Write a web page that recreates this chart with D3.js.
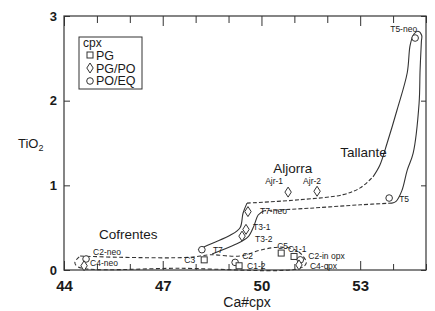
<!DOCTYPE html>
<html>
<head>
<meta charset="utf-8">
<script src="https://cdn.jsdelivr.net/npm/d3@7"></script>
<style>
  body { margin: 0; background: #fff; }
  svg { display: block; font-family: "Liberation Sans", Arial, sans-serif; }
  .axis path, .axis line { stroke: #333; }
  .axis text { fill: #1a1a1a; }
</style>
</head>
<body>
<script>
// chart size
var w = 435;
var h = 311;

// samples: name, Ca#cpx, TiO2, cpx texture
const sampleNames = ["T5-neo", "T5", "Ajr-1", "Ajr-2", "T7-neo", "T3-1", "T3-2", "T7",
                     "C3", "C2", "C1-2", "C5", "C1-1", "C2-in opx", "C4-cpx", "C2-neo", "C4-neo"];
const caNumber = [54.67, 53.88, 50.81, 51.69, 49.59, 49.53, 49.41, 48.19,
                  48.26, 49.20, 49.32, 50.60, 50.99, 51.18, 51.14, 44.67, 44.61];
const tio2 = [2.74, 0.85, 0.92, 0.93, 0.69, 0.48, 0.40, 0.24,
              0.12, 0.09, 0.05, 0.20, 0.16, 0.12, 0.06, 0.13, 0.05];
const texture = ["PO/EQ", "PO/EQ", "PG/PO", "PG/PO", "PG/PO", "PG/PO", "PG/PO", "PO/EQ",
                 "PG", "PO/EQ", "PG", "PG", "PG", "PO/EQ", "PG/PO", "PO/EQ", "PG/PO"];

const legendItems = ["PG", "PG/PO", "PO/EQ"];
const xTicks = [44, 45, 46, 47, 48, 49, 50, 51, 52, 53, 54, 55];
const xLabels = [44, 47, 50, 53];
const yTicks = [0, 1, 2, 3];

// field outlines (Ca#cpx, TiO2)
const tallanteUpperSolid = [[48.07,0.24],[48.53,0.32],[49.05,0.41],[49.35,0.50],[49.44,0.67],[49.56,0.79]];
const tallanteUpperDashed = [[49.56,0.79],[51.17,0.83],[52.48,0.89],[53.0,0.97],[53.39,1.10]];
const tallanteRightSolid = [[53.39,1.10],[53.60,1.24],[53.82,1.50],[54.12,1.89],[54.43,2.33],[54.52,2.66],
                            [54.64,2.79],[54.76,2.82],[54.87,2.77],[54.86,2.70],[54.82,2.36],[54.79,1.97],
                            [54.61,1.38],[54.43,1.18],[54.27,0.94],[54.09,0.81],[53.97,0.79]];
const tallanteLowerDashed = [[53.97,0.79],[53.0,0.77],[51.48,0.73],[50.08,0.70]];
const tallanteLowerSolid = [[50.08,0.70],[49.90,0.65],[49.78,0.53],[49.59,0.39],[49.20,0.30],[48.50,0.19]];
const cofrentesField = [[44.49,0.165],[45.70,0.15],[47.83,0.15],[48.44,0.18],[49.35,0.165],[50.02,0.24],
                        [50.57,0.27],[51.02,0.24],[51.26,0.165],[51.36,0.08],[51.17,0.02],[47.53,0.02],
                        [44.43,0.035],[44.33,0.09],[44.49,0.165]];

const fieldNames = ["Tallante", "Aljorra", "Cofrentes"];
const fieldX = [53.1, 50.95, 45.95];
const fieldY = [1.34, 1.15, 0.37];

// label offsets in px (anchor, dx, dy)
var labelPos = {
  "T5-neo": ["end", 2, -6], "T5": ["start", 10, 4], "Ajr-1": ["middle", -14, -8],
  "Ajr-2": ["middle", -5, -7], "T7-neo": ["start", 12, 2], "T3-1": ["start", 7, 1],
  "T3-2": ["start", 13, 6], "T7": ["start", 11, 3], "C3": ["end", -9, 3],
  "C2": ["start", 7, -3], "C1-2": ["start", 8, 3], "C5": ["start", -4, -4],
  "C1-1": ["start", -6, -4], "C2-in opx": ["start", 8, -1], "C4-cpx": ["start", 11, 4],
  "C2-neo": ["start", 7, -4], "C4-neo": ["start", 6, 0]
};

window.onload = function() {

  var svg = d3.select("body").append("svg")
              .attr("width", w)
              .attr("height", h);

  var x = d3.scaleLinear().domain([44, 55]).range([64, 426]);
  var y = d3.scaleLinear().domain([0, 3]).range([270, 16]);

  // frame
  svg.append("rect")
     .attr("x", x(44)).attr("y", y(3))
     .attr("width", x(55) - x(44)).attr("height", y(0) - y(3))
     .attr("fill", "none").attr("stroke", "#444").attr("stroke-width", 1.3);

  // bottom axis with inward ticks
  var bottom = svg.append("g")
     .attr("class", "axis")
     .attr("transform", "translate(0," + y(0) + ")")
     .call(d3.axisBottom(x).tickValues(xTicks).tickSize(-6).tickPadding(10)
             .tickFormat(function(d) { return xLabels.indexOf(d) >= 0 ? d : ""; }));
  bottom.selectAll("text").style("font-size", "15px").style("font-weight", "bold");
  bottom.selectAll(".tick line").attr("y2", function(d) { return xLabels.indexOf(d) >= 0 ? -9 : -6; });
  bottom.select(".domain").remove();

  var top = svg.append("g")
     .attr("class", "axis")
     .attr("transform", "translate(0," + y(3) + ")")
     .call(d3.axisTop(x).tickValues(xTicks).tickSize(-6).tickFormat(""));
  top.selectAll(".tick line").attr("y2", function(d) { return xLabels.indexOf(d) >= 0 ? 10 : 7; });
  top.select(".domain").remove();

  var left = svg.append("g")
     .attr("class", "axis")
     .attr("transform", "translate(" + x(44) + ",0)")
     .call(d3.axisLeft(y).tickValues(yTicks).tickSize(-6).tickPadding(7).tickFormat(d3.format("d")));
  left.selectAll("text").style("font-size", "13px").style("font-weight", "bold");
  left.select(".domain").remove();

  var right = svg.append("g")
     .attr("class", "axis")
     .attr("transform", "translate(" + x(55) + ",0)")
     .call(d3.axisRight(y).tickValues(yTicks).tickSize(-5).tickFormat(""));
  right.select(".domain").remove();

  // axis titles
  var yt = svg.append("text")
     .attr("x", 18).attr("y", 148)
     .style("font-size", "13px").attr("fill", "#1a1a1a");
  yt.append("tspan").text("TiO");
  yt.append("tspan").attr("dy", 3).style("font-size", "9px").text("2");

  svg.append("text")
     .attr("x", 247).attr("y", 307)
     .attr("text-anchor", "middle")
     .style("font-size", "14px").attr("fill", "#1a1a1a")
     .text("Ca#cpx");

  // field outlines
  var line = d3.line()
               .x(function(d) { return x(d[0]); })
               .y(function(d) { return y(d[1]); })
               .curve(d3.curveCatmullRom.alpha(0.5));

  var outlines = [
    [tallanteUpperSolid, null], [tallanteUpperDashed, "4,2"], [tallanteRightSolid, null],
    [tallanteLowerDashed, "4,2"], [tallanteLowerSolid, null], [cofrentesField, "4,2.5"]
  ];
  outlines.forEach(function(o) {
    svg.append("path")
       .attr("d", line(o[0]))
       .attr("fill", "none")
       .attr("stroke", "#333")
       .attr("stroke-width", 1.1)
       .attr("stroke-dasharray", o[1]);
  });

  // field names
  fieldNames.forEach(function(name, i) {
    svg.append("text")
       .attr("x", x(fieldX[i])).attr("y", y(fieldY[i]))
       .attr("text-anchor", "middle")
       .style("font-size", "13.5px").attr("fill", "#1a1a1a")
       .text(name);
  });

  // markers
  function marker(g, type, cx, cy) {
    if (type == "PG") {
      g.append("rect").attr("x", cx - 3).attr("y", cy - 3).attr("width", 6).attr("height", 6);
    } else if (type == "PG/PO") {
      g.append("path").attr("d", "M" + cx + "," + (cy - 5) + "L" + (cx + 3.2) + "," + cy +
                                 "L" + cx + "," + (cy + 5) + "L" + (cx - 3.2) + "," + cy + "Z");
    } else {
      g.append("circle").attr("cx", cx).attr("cy", cy).attr("r", 3.3);
    }
  }

  var pts = svg.append("g").attr("fill", "#fff").attr("stroke", "#333").attr("stroke-width", 1);
  sampleNames.forEach(function(name, i) {
    var cx = x(caNumber[i]), cy = y(tio2[i]);
    marker(pts, texture[i], cx, cy);
    var p = labelPos[name];
    svg.append("text")
       .attr("x", cx + p[1]).attr("y", cy + p[2])
       .attr("text-anchor", p[0])
       .style("font-size", "8.5px").attr("fill", "#1a1a1a")
       .text(name);
  });

  // legend
  var lg = svg.append("g");
  lg.append("rect").attr("x", 79).attr("y", 37).attr("width", 63).attr("height", 52)
    .attr("fill", "#fff").attr("stroke", "#333").attr("stroke-width", 1);
  lg.append("text").attr("x", 83).attr("y", 47).style("font-size", "12px").attr("fill", "#1a1a1a").text("cpx");
  var lm = lg.append("g").attr("fill", "#fff").attr("stroke", "#333").attr("stroke-width", 1);
  legendItems.forEach(function(item, i) {
    marker(lm, item, 90, 55 + i * 13);
    lg.append("text").attr("x", 96).attr("y", 60 + i * 12.5)
      .style("font-size", "12.5px").attr("fill", "#1a1a1a").text(item);
  });
};
</script>
</body>
</html>
